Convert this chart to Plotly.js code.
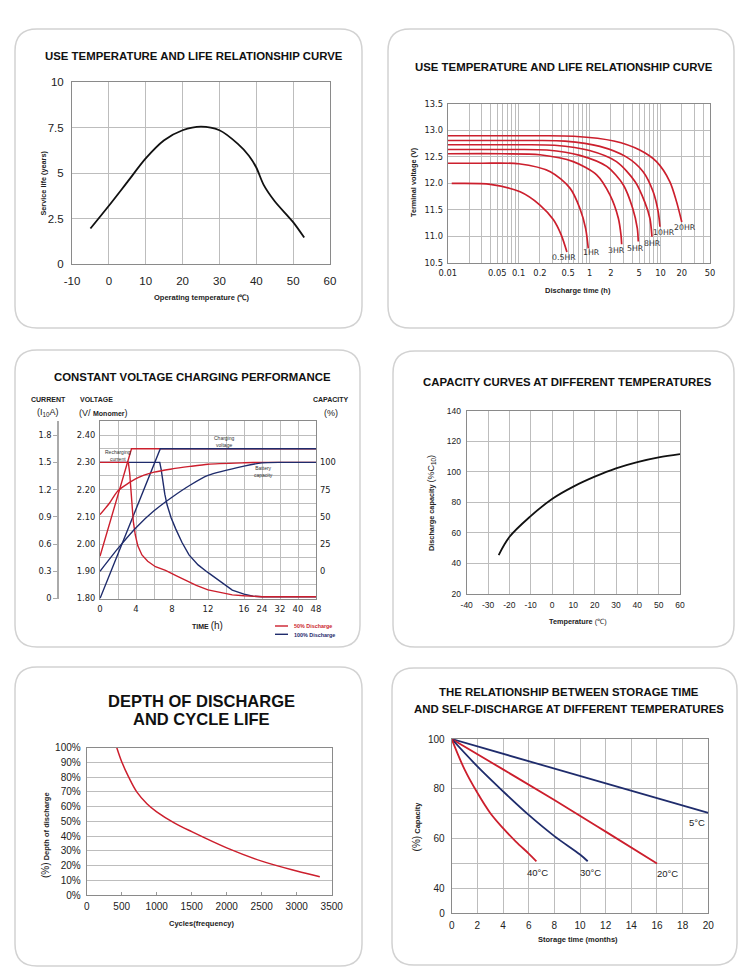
<!DOCTYPE html>
<html><head><meta charset="utf-8">
<script src="https://cdn.plot.ly/plotly-3.0.1.min.js"></script>
<style>html,body{margin:0;padding:0;background:#fff}#chart{width:750px;height:979px}</style>
</head><body><div id="chart"></div>
<script>
// ================= DATA =================
// Panel 1: use temperature vs service life
const lifeTemp  = [-5, 0, 5, 10, 15, 20, 25, 30, 35, 38, 40, 42, 45, 50, 53];
const lifeYears = [1.95, 3.2, 4.5, 5.8, 6.8, 7.35, 7.55, 7.35, 6.6, 5.95, 5.3, 4.35, 3.45, 2.3, 1.45];
const lifeTempTicks = [-10, 0, 10, 20, 30, 40, 50, 60];

// Panel 2: discharge curves (time h, terminal voltage V)
const rateNames = ['20HR', '10HR', '8HR', '5HR', '3HR', '1HR', '0.5HR'];
const t20HR  = [0.01, 0.2, 0.6, 2.2, 5.1, 8.8, 13.6, 16.9, 20];
const v20HR  = [12.9, 12.9, 12.89, 12.8, 12.63, 12.41, 12.03, 11.65, 11.27];
const t10HR  = [0.01, 0.15, 0.45, 1.4, 3.3, 5.7, 7.9, 9.3, 9.85];
const v10HR  = [12.81, 12.81, 12.8, 12.7, 12.5, 12.22, 11.84, 11.46, 11.18];
const t8HR   = [0.01, 0.1, 0.32, 1.0, 2.4, 4.4, 6.0, 7.1, 7.6];
const v8HR   = [12.73, 12.73, 12.72, 12.62, 12.41, 12.03, 11.65, 11.34, 10.99];
const t5HR   = [0.01, 0.08, 0.25, 0.73, 1.75, 3.0, 4.06, 4.72, 4.87];
const v5HR   = [12.64, 12.64, 12.63, 12.53, 12.32, 11.97, 11.53, 11.15, 10.9];
const t3HR   = [0.01, 0.06, 0.2, 0.59, 1.26, 1.94, 2.55, 2.78, 2.84];
const v3HR   = [12.56, 12.56, 12.54, 12.41, 12.16, 11.78, 11.34, 11.02, 10.85];
const t1HR   = [0.01, 0.03, 0.1, 0.28, 0.53, 0.73, 0.88, 0.96];
const v1HR   = [12.38, 12.38, 12.37, 12.22, 11.91, 11.53, 11.15, 10.77];
const t05HR  = [0.0114, 0.015, 0.04, 0.105, 0.2, 0.31, 0.4, 0.48];
const v05HR  = [12.0, 12.0, 11.98, 11.84, 11.59, 11.31, 11.02, 10.7];
const dischargeTickVals = [0.01, 0.05, 0.1, 0.2, 0.5, 1, 2, 5, 10, 20, 50];

// Panel 3: constant voltage charging (time h)
const timeTickLabels = [0, 4, 8, 12, 16, 24, 32, 40, 48];
const redVoltT  = [0, 3.5, 48];
const redVolt   = [1.955, 2.35, 2.35];
const blueVoltT = [0, 6.7, 48];
const blueVolt  = [1.80, 2.35, 2.35];
const redCurT   = [0, 3.15, 3.3, 3.42, 3.55, 3.7, 3.92, 4.2, 4.66, 5.3, 6.16, 7.28, 8.5, 9.5, 10.7, 12, 13.3, 14.7, 16, 20, 24, 48];
const redCur    = [1.5, 1.5, 1.38, 1.2, 1.0, 0.85, 0.70, 0.58, 0.48, 0.41, 0.35, 0.31, 0.25, 0.20, 0.145, 0.095, 0.065, 0.04, 0.03, 0.022, 0.02, 0.02];
const blueCurT  = [0, 6.64, 6.8, 6.98, 7.2, 7.46, 7.9, 8.4, 9.1, 9.89, 10.9, 11.94, 12.9, 13.8, 14.7, 16, 20, 24, 48];
const blueCur   = [1.5, 1.5, 1.42, 1.29, 1.15, 1.03, 0.89, 0.77, 0.62, 0.48, 0.37, 0.29, 0.22, 0.15, 0.092, 0.048, 0.025, 0.02, 0.02];
const redCapT   = [0, 1, 2, 4, 6, 8, 10, 12, 16, 24, 48];
const redCap    = [52, 62, 74, 85, 91, 94, 96.3, 98.3, 99.6, 100, 100];
const blueCapT  = [0, 2, 4, 6, 8, 10, 12, 16, 24, 32, 48];
const blueCap   = [0, 21, 40, 55.5, 68, 79, 88, 96.5, 99.5, 100, 100];

// Panel 4: capacity vs temperature
const capTemp = [-25, -20, -10, 0, 10, 20, 30, 40, 50, 60];
const capPct  = [45.5, 57.3, 71, 82.2, 90.3, 96.8, 102.3, 106.4, 109.5, 111.6];
const capTempTicks = [-40, -30, -20, -10, 0, 10, 20, 30, 40, 50, 60];

// Panel 5: depth of discharge vs cycles
const cycles = [430, 500, 600, 715, 860, 1000, 1250, 1500, 2000, 2500, 3000, 3330];
const dod    = [100, 90.5, 80, 70, 62, 56.5, 49, 43, 32, 23, 16.3, 12.4];

// Panel 6: storage time vs capacity
const store5T  = [0, 10, 20];
const store5C  = [100, 85.3, 70.3];
const store20T = [0, 4, 8, 12, 16];
const store20C = [100, 87.8, 75.5, 62.8, 50];
const store30T = [0, 2, 4, 6, 8, 10, 10.6];
const store30C = [100, 89, 79, 69.5, 61, 53.6, 50.9];
const store40T = [0, 1, 2, 3, 4, 5, 6, 6.6];
const store40C = [100, 87.8, 78.4, 70.3, 64.2, 58.8, 54, 50.9];
const storeCapTicks = [30, 40, 60, 80, 100];
const storeCapLabels = ['0', '40', '60', '80', '100'];

// ================= HELPERS =================
const W = 750, H = 979;
const FONT = 'Liberation Sans, Arial, sans-serif';
const DJ = 'DejaVu Sans, sans-serif';
const RED = '#cc1f2d', BLUE = '#1f2c6c';
const GRID = '#bdbdbd';
const xd = (a, b) => [a / W, b / W];
const yd = (top, bot) => [1 - bot / H, 1 - top / H];

function ax(o) {
  return Object.assign({
    showgrid: true, gridcolor: GRID, gridwidth: 1,
    showline: true, linecolor: '#8a8a8a', linewidth: 1, mirror: true,
    zeroline: false, ticks: '', fixedrange: true,
    tickfont: {family: FONT, size: 10, color: '#222'}
  }, o);
}
function A(text, x, y, size, extra) {
  extra = extra || {};
  const color = extra.color || '#222';
  const fam = extra.family || FONT;
  delete extra.color; delete extra.family;
  return Object.assign({
    text: text, x: x / W, y: 1 - y / H, xref: 'paper', yref: 'paper',
    showarrow: false, xanchor: 'center', yanchor: 'middle',
    font: {family: fam, size: size, color: color}
  }, extra);
}
function card(x0, y0, x1, y1, r) {
  const X = v => (v / W).toFixed(5), Y = v => (1 - v / H).toFixed(5);
  const p = 'M' + X(x0 + r) + ',' + Y(y0) + ' L' + X(x1 - r) + ',' + Y(y0) +
    ' Q' + X(x1) + ',' + Y(y0) + ' ' + X(x1) + ',' + Y(y0 + r) +
    ' L' + X(x1) + ',' + Y(y1 - r) +
    ' Q' + X(x1) + ',' + Y(y1) + ' ' + X(x1 - r) + ',' + Y(y1) +
    ' L' + X(x0 + r) + ',' + Y(y1) +
    ' Q' + X(x0) + ',' + Y(y1) + ' ' + X(x0) + ',' + Y(y1 - r) +
    ' L' + X(x0) + ',' + Y(y0 + r) +
    ' Q' + X(x0) + ',' + Y(y0) + ' ' + X(x0 + r) + ',' + Y(y0) + ' Z';
  return {type: 'path', path: p, xref: 'paper', yref: 'paper', layer: 'below',
          line: {color: '#d2d2d2', width: 1.5}, fillcolor: 'rgba(0,0,0,0)'};
}
// Panel 3 broken time axis: 2 h per grid step up to 16 h, 8 h per step after
const u = t => t <= 16 ? t / 2 : 8 + (t - 16) / 8;

// ================= TRACES =================
const traces = [];
// Panel 1
traces.push({x: lifeTemp, y: lifeYears, xaxis: 'x', yaxis: 'y', mode: 'lines',
  line: {color: '#111', width: 1.8, shape: 'spline', smoothing: 0.8}});

// Panel 2
const rateT = [t20HR, t10HR, t8HR, t5HR, t3HR, t1HR, t05HR];
const rateV = [v20HR, v10HR, v8HR, v5HR, v3HR, v1HR, v05HR];
rateT.forEach((t, i) => traces.push({x: t, y: rateV[i], xaxis: 'x2', yaxis: 'y2', mode: 'lines',
  line: {color: RED, width: 1.7, shape: 'spline', smoothing: 0.8}}));

// Panel 3 (order matters for overlap)
traces.push({x: blueCurT.map(u), y: blueCur, xaxis: 'x3', yaxis: 'y4', mode: 'lines',
  line: {color: BLUE, width: 1.4}});
traces.push({x: redCurT.map(u), y: redCur, xaxis: 'x3', yaxis: 'y4', mode: 'lines',
  line: {color: RED, width: 1.4}});
traces.push({x: redCapT.map(u), y: redCap, xaxis: 'x3', yaxis: 'y5', mode: 'lines',
  line: {color: RED, width: 1.4, shape: 'spline', smoothing: 0.6}});
traces.push({x: blueCapT.map(u), y: blueCap, xaxis: 'x3', yaxis: 'y5', mode: 'lines',
  line: {color: BLUE, width: 1.4, shape: 'spline', smoothing: 0.6}});
traces.push({x: redVoltT.map(u), y: redVolt, xaxis: 'x3', yaxis: 'y3', mode: 'lines',
  line: {color: RED, width: 1.4}});
traces.push({x: blueVoltT.map(u), y: blueVolt, xaxis: 'x3', yaxis: 'y3', mode: 'lines',
  line: {color: BLUE, width: 1.4}});

// Panel 4
traces.push({x: capTemp, y: capPct, xaxis: 'x4', yaxis: 'y6', mode: 'lines',
  line: {color: '#111', width: 1.8, shape: 'spline', smoothing: 1}});

// Panel 5
traces.push({x: cycles, y: dod, xaxis: 'x5', yaxis: 'y7', mode: 'lines',
  line: {color: RED, width: 1.5, shape: 'spline', smoothing: 1}});

// Panel 6
traces.push({x: store5T, y: store5C, xaxis: 'x6', yaxis: 'y8', mode: 'lines', line: {color: BLUE, width: 1.8}});
traces.push({x: store20T, y: store20C, xaxis: 'x6', yaxis: 'y8', mode: 'lines', line: {color: RED, width: 1.8, shape: 'spline'}});
traces.push({x: store30T, y: store30C, xaxis: 'x6', yaxis: 'y8', mode: 'lines', line: {color: BLUE, width: 1.8, shape: 'spline'}});
traces.push({x: store40T, y: store40C, xaxis: 'x6', yaxis: 'y8', mode: 'lines', line: {color: RED, width: 1.8, shape: 'spline'}});

// ================= AXES =================
// Panel 2 log grid positions (1..9 per decade)
const logGrid = [];
[0.01, 0.1, 1, 10].forEach(d => { for (let k = 1; k <= 9; k++) { const v = +(d * k).toPrecision(3); if (v <= 50) logGrid.push(v); } });

const vRange = [1.8, 2.452];
const curRange = vRange.map(v => (v - 1.8) * 3);
const capRange = vRange.map(v => (v - 1.9) * 250);
const minorGrid = (o) => Object.assign({showgrid: true, gridcolor: GRID, gridwidth: 1, ticks: ''}, o);

const layout = {
  width: W, height: H, margin: {l: 0, r: 0, t: 0, b: 0},
  paper_bgcolor: '#fff', plot_bgcolor: 'rgba(0,0,0,0)', showlegend: false,
  font: {family: FONT, color: '#222'},
  // Panel 1
  xaxis: ax({domain: xd(72, 330), anchor: 'y', range: [-10, 60], tickvals: lifeTempTicks, ticktext: lifeTempTicks.map(String), tickfont: {family: FONT, size: 11.5, color: '#222'}, ticklabelstandoff: 6}),
  yaxis: ax({domain: yd(82, 264), anchor: 'x', range: [0, 10], tickvals: [0, 2.5, 5, 7.5, 10], tickfont: {family: FONT, size: 11.5, color: '#222'}, ticklabelstandoff: 5}),
  // Panel 2
  xaxis2: ax({domain: xd(447.7, 710), anchor: 'y2', type: 'log', range: [-2, Math.log10(50)], tickvals: dischargeTickVals, ticktext: dischargeTickVals.map(String), minor: minorGrid({tickvals: logGrid}), tickfont: {family: DJ, size: 8.3, color: '#222'}, ticklabelstandoff: 2}),
  yaxis2: ax({domain: yd(104, 262.7), anchor: 'x2', range: [10.5, 13.5], dtick: 0.5, tickformat: '.1f', tickfont: {family: DJ, size: 8.3, color: '#222'}, ticklabelstandoff: 2}),
  // Panel 3
  xaxis3: ax({domain: xd(100, 316), anchor: 'y3', range: [0, 12], tickvals: timeTickLabels.map(u), ticktext: timeTickLabels.map(String), minor: minorGrid({tick0: 0, dtick: 1}), tickfont: {family: DJ, size: 8.5, color: '#222'}, ticklabelstandoff: 2}),
  yaxis3: ax({domain: yd(421, 598.5), anchor: 'x3', range: vRange, tickvals: [1.8, 1.9, 2.0, 2.1, 2.2, 2.3, 2.4], tickformat: '.2f', minor: minorGrid({tick0: 1.8, dtick: 0.05}), tickfont: {family: DJ, size: 8.3, color: '#222'}, ticklabelstandoff: 2}),
  yaxis4: {overlaying: 'y3', anchor: 'free', position: 57.3 / W, side: 'left', range: curRange,
    tickvals: [0, 0.3, 0.6, 0.9, 1.2, 1.5, 1.8], ticktext: ['0', '0.3', '0.6', '0.9', '1.2', '1.5', '1.8'],
    showgrid: false, zeroline: false, showline: true, linecolor: '#aaa', linewidth: 1.2,
    ticks: 'outside', ticklen: 4, tickcolor: '#aaa', fixedrange: true,
    tickfont: {family: DJ, size: 8.3, color: '#222'}},
  yaxis5: {overlaying: 'y3', anchor: 'x3', side: 'right', range: capRange,
    tickvals: [0, 25, 50, 75, 100], showgrid: false, zeroline: false, showline: false, ticks: '', fixedrange: true,
    ticklabelstandoff: 3, tickfont: {family: DJ, size: 8.3, color: '#222'}},
  // Panel 4
  xaxis4: ax({domain: xd(466.7, 680), anchor: 'y6', range: [-40, 60], tickvals: capTempTicks, ticktext: capTempTicks.map(String), tickfont: {family: FONT, size: 8.5, color: '#222'}, ticklabelstandoff: 3}),
  yaxis6: ax({domain: yd(410.7, 594), anchor: 'x4', range: [20, 140], dtick: 20, tickfont: {family: FONT, size: 8.5, color: '#222'}, ticklabelstandoff: 3}),
  // Panel 5
  xaxis5: ax({domain: xd(86.7, 331.7), anchor: 'y7', range: [0, 3500], dtick: 500, showgrid: false, ticks: 'inside', ticklen: 3, tickcolor: '#999', tickfont: {family: FONT, size: 10, color: '#222'}, ticklabelstandoff: 2}),
  yaxis7: ax({domain: yd(747.7, 895), anchor: 'x5', range: [0, 100], dtick: 10, ticksuffix: '%', tickfont: {family: FONT, size: 10, color: '#222'}, ticklabelstandoff: 3}),
  // Panel 6
  xaxis6: ax({domain: xd(451.7, 708.3), anchor: 'y8', range: [0, 20], dtick: 2, tickfont: {family: FONT, size: 10, color: '#222'}, ticklabelstandoff: 3}),
  yaxis8: ax({domain: yd(739, 913.3), anchor: 'x6', range: [30, 100], tickvals: storeCapTicks, ticktext: storeCapLabels, minor: minorGrid({tick0: 0, dtick: 10}), tickfont: {family: FONT, size: 10, color: '#222'}, ticklabelstandoff: 4}),
  shapes: [
    card(15, 29, 362, 328, 22), card(388, 29, 734, 328, 22),
    card(15, 350, 360, 647, 22), card(393, 351, 734, 647, 22),
    card(15, 667, 362, 966, 22), card(392, 668, 737, 965, 22),
    {type: 'line', xref: 'paper', yref: 'paper', x0: 275 / W, x1: 288 / W, y0: 1 - 626 / H, y1: 1 - 626 / H, line: {color: RED, width: 1.4}},
    {type: 'line', xref: 'paper', yref: 'paper', x0: 275 / W, x1: 288 / W, y0: 1 - 634.3 / H, y1: 1 - 634.3 / H, line: {color: BLUE, width: 1.4}}
  ],
  annotations: []
};

const ann = layout.annotations;
const TS = 11.4;
// titles
ann.push(A('<b>USE TEMPERATURE AND LIFE RELATIONSHIP CURVE</b>', 193.5, 56, TS, {color: '#111'}));
ann.push(A('<b>USE TEMPERATURE AND LIFE RELATIONSHIP CURVE</b>', 564.3, 67.3, TS, {color: '#111'}));
ann.push(A('<b>CONSTANT VOLTAGE CHARGING PERFORMANCE</b>', 192.5, 377, TS, {color: '#111'}));
ann.push(A('<b>CAPACITY CURVES AT DIFFERENT TEMPERATURES</b>', 567.2, 381.7, TS, {color: '#111'}));
ann.push(A('<b>DEPTH OF DISCHARGE</b>', 201.7, 700.8, 16.5, {color: '#111'}));
ann.push(A('<b>AND CYCLE LIFE</b>', 201.7, 719.2, 16.5, {color: '#111'}));
ann.push(A('<b>THE RELATIONSHIP BETWEEN STORAGE TIME</b>', 569.2, 692.3, TS, {color: '#111'}));
ann.push(A('<b>AND SELF-DISCHARGE AT DIFFERENT TEMPERATURES</b>', 569.2, 709, TS, {color: '#111'}));

// axis titles
ann.push(A('<b>Operating temperature (℃)</b>', 201.7, 297.3, 7.5));
ann.push(A('<b>Service life (years)</b>', 43.3, 183.3, 7.3, {textangle: -90}));
ann.push(A('<b>Discharge time (h)</b>', 578, 290.7, 7.5));
ann.push(A('<b>Terminal voltage (V)</b>', 413.3, 181.7, 7.3, {textangle: -90}));
ann.push(A('<b>TIME</b> <span style="font-size:10px">(h)</span>', 207, 625, 7));
ann.push(A('<b>Temperature</b> (℃)', 577.7, 621, 7.3));
ann.push(A('<b>Discharge capacity</b> <span style="font-size:9px">(%C<sub>10</sub>)</span>', 431.7, 503.3, 7.3, {textangle: -90}));
ann.push(A('<b>Cycles(frequency)</b>', 201.7, 923.3, 7.5));
ann.push(A('<span style="font-size:10px">(%)</span> <b>Depth of discharge</b>', 45, 835, 7.5, {textangle: -90}));
ann.push(A('<b>Storage time (months)</b>', 577.7, 939.3, 7.5));
ann.push(A('<span style="font-size:10px">(%)</span> <b>Capacity</b>', 416.7, 826.7, 7.5, {textangle: -90}));

// Panel 3 headers
ann.push(A('<b>CURRENT</b>', 48, 399, 7));
ann.push(A('(I<sub>10</sub>A)', 48, 412.5, 9));
ann.push(A('<b>VOLTAGE</b>', 78, 399, 7, {xanchor: 'left'}));
ann.push(A('(V/ <span style="font-size:7px"><b>Monomer</b></span>)', 77, 412.5, 9, {xanchor: 'left'}));
ann.push(A('<b>CAPACITY</b>', 331, 399, 7));
ann.push(A('(%)', 331, 412.5, 9));
ann.push(A('Charging<br>voltage', 212, 441.5, 5, {xanchor: 'left', color: '#333'}));
ann.push(A('Recharging<br>current', 103, 455.5, 5, {xanchor: 'left', color: '#333'}));
ann.push(A('Battery<br>capacity', 252, 471, 5, {xanchor: 'left', color: '#333'}));
ann.push(A('<b>50% Discharge</b>', 291.5, 626, 5.4, {xanchor: 'left', color: RED}));
ann.push(A('<b>100% Discharge</b>', 291.5, 634.5, 5.4, {xanchor: 'left', color: BLUE}));

// Panel 2 rate labels at curve ends
const rateShift = [[3.5, -5.7], [4, -5.3], [1, -7.2], [-2.3, -6.8], [-5.6, -6.5], [3.5, -4.3], [-3, -5.6]];
rateT.forEach((t, i) => {
  ann.push({text: rateNames[i], xref: 'x2', yref: 'y2', x: Math.log10(t[t.length - 1]), y: rateV[i][rateV[i].length - 1],
    xshift: rateShift[i][0], yshift: rateShift[i][1], showarrow: false, xanchor: 'center', yanchor: 'middle',
    font: {family: DJ, size: 7.8, color: '#333'}});
});

// Panel 6 labels at curve ends
const storeT = [store5T, store20T, store30T, store40T];
const storeC = [store5C, store20C, store30C, store40C];
const storeNames = ['5°C', '20°C', '30°C', '40°C'];
const storeShift = [[-11.3, -9.7], [11, -9.5], [2.3, -11.7], [1.6, -11.4]];
storeT.forEach((t, i) => {
  ann.push({text: storeNames[i], xref: 'x6', yref: 'y8', x: t[t.length - 1], y: storeC[i][storeC[i].length - 1],
    xshift: storeShift[i][0], yshift: storeShift[i][1], showarrow: false, xanchor: 'center', yanchor: 'middle',
    font: {family: FONT, size: 9.5, color: '#222'}});
});

Plotly.newPlot('chart', traces, layout, {staticPlot: true, displayModeBar: false});
</script>
</body></html>
